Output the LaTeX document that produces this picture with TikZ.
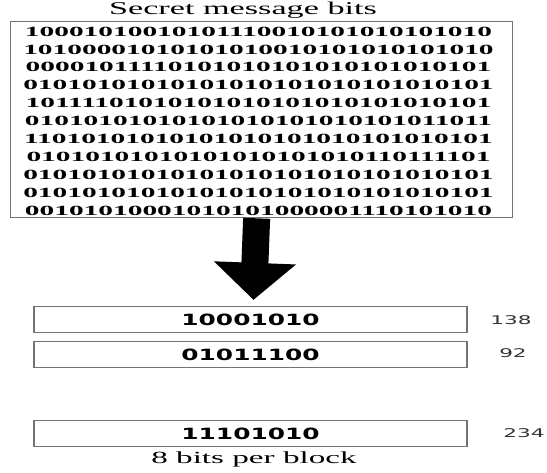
\documentclass[tikz,border=0pt]{standalone}
\usepackage{fontspec}
\setmainfont{Liberation Serif}[BoldFont={Liberation Serif Bold}]
\newfontfamily\bitfont{Liberation Serif Bold}
\newfontfamily\boxfont{DejaVu Sans}
\newfontfamily\boxbold{DejaVu Sans Bold}
\usetikzlibrary{arrows.meta}
\tikzset{
  frame/.style={draw=black!55, line width=1.3pt},
  bitrow/.style={inner sep=0pt, font=\bitfont\fontsize{14}{14}\selectfont},
  blockbox/.style={frame, minimum width=433pt, minimum height=26pt, inner sep=0pt,
     font=\boxbold\fontsize{15.5}{15.5}\selectfont},
  valuelabel/.style={inner sep=0pt, text=black!80, font=\boxfont\fontsize{12}{12}\selectfont},
  caption/.style={inner sep=0pt, font=\fontsize{17}{17}\selectfont},
  bigarrow/.style={line width=27pt, -{Triangle[width=80pt,length=37pt]}}
}
\newcommand{\xs}[2][2]{\scalebox{#1}[1]{#2}}
\begin{document}
\begin{tikzpicture}[x=1pt,y=-1pt]
\useasboundingbox[fill=white] (0,0) rectangle (547,472);
% title
\node[caption, font=\fontsize{18}{18}\selectfont] (title) at (243,10) {\xs[1.9]{Secret message bits}};
% bits box
\node[frame, minimum width=502pt, minimum height=196pt, inner sep=0pt, anchor=north west] (bits) at (10,21) {};
\foreach \r [count=\i from 0] in {
10001010010101110010101010101010,
10100001010101010010101010101010,
00001011110101010101010101010101,
01010101010101010101010101010101,
10111101010101010101010101010101,
01010101010101010101010101011011,
11010101010101010101010101010101,
01010101010101010101010110111101,
01010101010101010101010101010101,
01010101010101010101010101010101,
00101010001010101000001110101010}{
  \node[bitrow] (row\i) at (258.5,{31.5+17.95*\i}) {\xs[2.1]{\r}};
}
% blocks
\node[blockbox] (b1) at (250.5,319.5) {\xs[1.6]{10001010}};
\node[blockbox] (b2) at (250.5,354.5) {\xs[1.6]{01011100}};
\node[blockbox] (b3) at (250.5,433.5) {\xs[1.6]{11101010}};
\node[valuelabel] (v1) at (511,320) {\xs[1.8]{138}};
\node[valuelabel] (v2) at (513,353) {\xs[1.8]{92}};
\node[valuelabel] (v3) at (524,433) {\xs[1.8]{234}};
\node[caption] (cap) at (254,459) {\xs[1.95]{8 bits per block}};
% arrow
\draw[bigarrow] ([xshift=-5pt]bits.south) -- ([xshift=3pt, yshift=6pt]b1.north);
\end{tikzpicture}
\end{document}
